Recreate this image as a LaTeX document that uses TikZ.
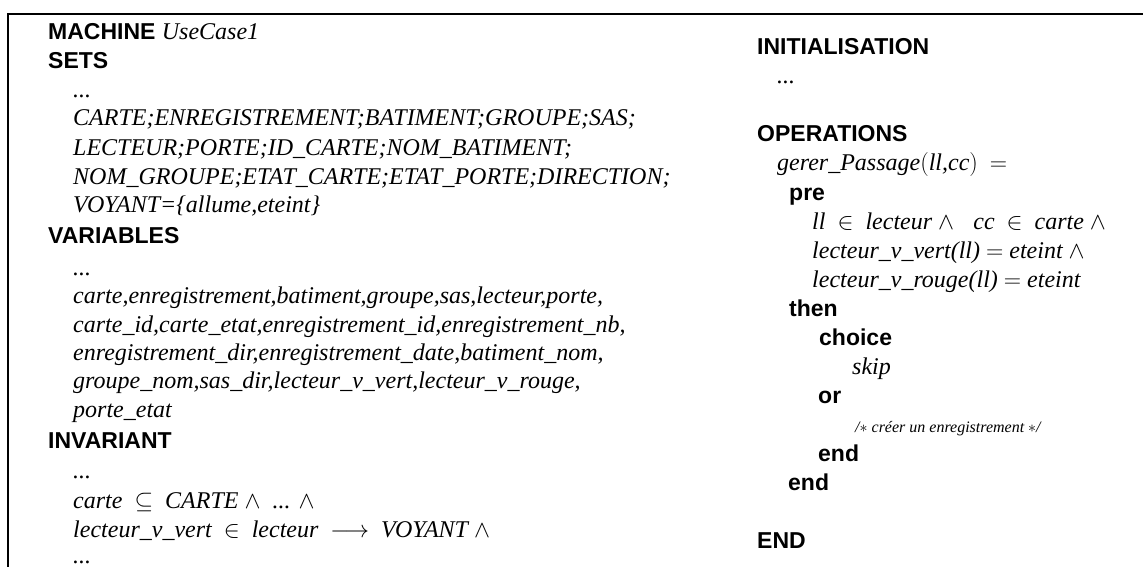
\RequirePackage{fix-cm}
\documentclass[tikz,border=0pt]{standalone}
\usepackage{fontspec}
\setmainfont{Liberation Serif}
\newfontfamily\hfont{Liberation Sans}
\newcommand{\gapsp}{\hspace{0.5em}}
\begin{document}
\begin{tikzpicture}[x=1pt,y=-1pt,
  kw/.style={anchor=base west, inner sep=0pt, font=\hfont\bfseries\fontsize{23}{28}\selectfont},
  it/.style={anchor=base west, inner sep=0pt, font=\itshape\fontsize{24}{29}\selectfont},
  cmttext/.style={anchor=base west, inner sep=0pt, font=\itshape\fontsize{16}{20}\selectfont},
  frame/.style={line width=2pt}]
\useasboundingbox (0,0) rectangle (1143,567);
\coordinate (tl) at (8,14);
\coordinate (tr) at (1143,14);
\coordinate (bl) at (8,567);
\draw[frame] (bl) -- (tl) -- (tr);
% left column
\node[kw] (m) at (48,40) {MACHINE \itshape\rmfamily\mdseries\fontsize{24}{29}\selectfont UseCase1};
\node[kw] (sets) at (48,69) {SETS};
\node[it] (s0) at (73,98) {...};
\node[it] (s1) at (73,126) {CARTE;ENREGISTREMENT;BATIMENT;GROUPE;SAS;};
\node[it] (s2) at (73,155) {LECTEUR;PORTE;ID\_CARTE;NOM\_BATIMENT;};
\node[it] (s3) at (73,184) {NOM\_GROUPE;ETAT\_CARTE;ETAT\_PORTE;DIRECTION;};
\node[it] (s4) at (73,212) {VOYANT=\{allume,eteint\}};
\node[kw] (vars) at (48,243) {VARIABLES};
\node[it] (v0) at (73,275) {...};
\node[it] (v1) at (73,303) {carte,enregistrement,batiment,groupe,sas,lecteur,porte,};
\node[it] (v2) at (73,332) {carte\_id,carte\_etat,enregistrement\_id,enregistrement\_nb,};
\node[it] (v3) at (73,360) {enregistrement\_dir,enregistrement\_date,batiment\_nom,};
\node[it] (v4) at (73,388) {groupe\_nom,sas\_dir,lecteur\_v\_vert,lecteur\_v\_rouge,};
\node[it] (v5) at (73,417) {porte\_etat};
\node[kw] (inv) at (48,448) {INVARIANT};
\node[it] (i0) at (73,478) {...};
\node[it] (i1) at (73,508) {carte\gapsp$\subseteq$\gapsp CARTE $\wedge$\gapsp ... $\wedge$};
\node[it] (i2) at (73,537) {lecteur\_v\_vert\gapsp$\in$\gapsp lecteur\gapsp$\longrightarrow$\gapsp VOYANT $\wedge$};
\node[it] (i3) at (73,563) {...};
% right column
\node[kw] (init) at (757,55) {INITIALISATION};
\node[it] (in0) at (777,84) {...};
\node[kw] (ops) at (757,142) {OPERATIONS};
\node[it] (op) at (777,171) {gerer\_Passage$($ll,cc$)$\gapsp$=$};
\node[kw] (pre) at (789,200) {pre};
\node[it] (p1) at (812,229) {ll\gapsp$\in$\gapsp lecteur $\wedge$\gapsp\hspace{0.3em}cc\gapsp$\in$\gapsp carte $\wedge$};
\node[it] (p2) at (812,258) {lecteur\_v\_vert(ll) $=$ eteint $\wedge$};
\node[it] (p3) at (812,287) {lecteur\_v\_rouge(ll) $=$ eteint};
\node[kw] (then) at (789,316) {then};
\node[kw] (choice) at (819,345) {choice};
\node[it] (skip) at (852,374) {skip};
\node[kw] (or) at (818,403) {or};
\node[cmttext] (com) at (855,432) {/$\ast$ créer un enregistrement $\ast$/};
\node[kw] (end1) at (818,461) {end};
\node[kw] (end2) at (788,490) {end};
\node[kw] (END) at (757,548) {END};
\end{tikzpicture}
\end{document}
